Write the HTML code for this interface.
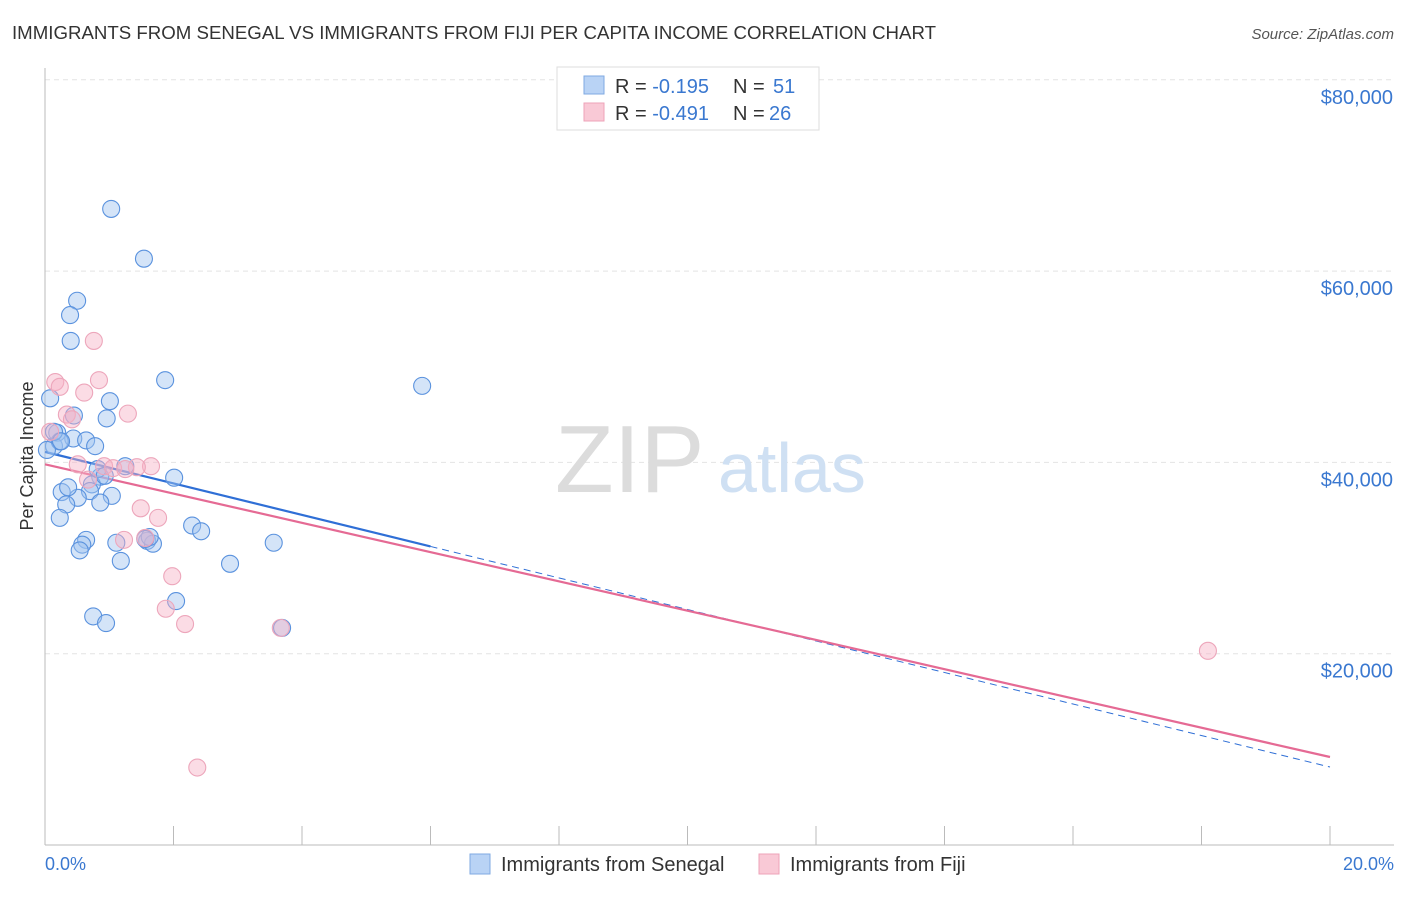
<!DOCTYPE html>
<html><head><meta charset="utf-8"><style>
body{margin:0;background:#fff;font-family:"Liberation Sans",sans-serif;}
svg text{font-family:"Liberation Sans",sans-serif;}
</style></head><body>
<svg id="chart" width="1406" height="892" viewBox="0 0 1406 892" xmlns="http://www.w3.org/2000/svg">
<text x="12" y="39" font-size="18.5" fill="#333" textLength="924" lengthAdjust="spacingAndGlyphs">IMMIGRANTS FROM SENEGAL VS IMMIGRANTS FROM FIJI PER CAPITA INCOME CORRELATION CHART</text>
<text x="1394" y="39" font-size="15" fill="#555" font-style="italic" text-anchor="end">Source: ZipAtlas.com</text>
<g id="grid"></g>
<text x="555" y="492" font-size="96" fill="#dcdcdc" font-family="Liberation Serif">ZIP</text>
<text x="718" y="492" font-size="70" fill="#cfe0f3">atlas</text>
<line x1="45" y1="68" x2="45" y2="845" stroke="#bbb"/>
<line x1="45" y1="845" x2="1394" y2="845" stroke="#bbb"/>
<text x="33" y="456" font-size="18" fill="#333" text-anchor="middle" transform="rotate(-90 33 456)">Per Capita Income</text>
<text x="45" y="870" font-size="18" fill="#3a78d0">0.0%</text>
<text x="1394" y="870" font-size="18" fill="#3a78d0" text-anchor="end">20.0%</text>
<g id="lines"></g>
<g id="points"></g>
<g>
<rect x="557" y="67" width="262" height="63" fill="#fff" stroke="#ddd"/>
<rect x="584" y="76" width="20" height="18" fill="#b9d3f5" stroke="#7fa9e2"/>
<rect x="584" y="103" width="20" height="18" fill="#f9c9d6" stroke="#eea3b8"/>
<text x="615" y="93" font-size="20" fill="#333">R = <tspan fill="#3a78d0">-0.195</tspan><tspan x="733">N = </tspan><tspan fill="#3a78d0" x="773">51</tspan></text>
<text x="615" y="120" font-size="20" fill="#333">R = <tspan fill="#3a78d0">-0.491</tspan><tspan x="733">N = </tspan><tspan fill="#3a78d0" x="769">26</tspan></text>
</g>
<g>
<rect x="470" y="854" width="20" height="20" fill="#b9d3f5" stroke="#7fa9e2"/>
<text x="501" y="871" font-size="20" fill="#333">Immigrants from Senegal</text></g>
<g>
<rect x="759" y="854" width="20" height="20" fill="#f9c9d6" stroke="#eea3b8"/>
<text x="790" y="871" font-size="20" fill="#333">Immigrants from Fiji</text></g>
</svg>
<script>
const yTicks=[20000,40000,60000,80000];
const yTickLabels=["$20,000","$40,000","$60,000","$80,000"];
const xTicks=[0,2,4,6,8,10,12,14,16,18,20];
const senegalX=[1.03,1.54,0.50,0.39,0.40,1.87,5.87,0.08,1.01,0.96,0.45,0.19,0.14,0.44,0.64,0.78,0.23,1.25,2.01,0.86,0.73,0.70,1.04,0.26,0.51,0.33,0.86,0.23,0.64,0.58,1.11,1.59,1.68,2.29,2.43,3.56,2.88,1.18,2.04,0.75,0.95,3.69,0.14,0.03,1.63,1.56,0.36,0.82,0.25,0.93,0.54];
const senegalY=[66500,61300,56900,55400,52700,48600,48000,46700,46400,44600,44900,43100,41700,42500,42300,41700,42200,39600,38400,38500,37700,37000,36500,36900,36300,35600,35800,34200,31900,31400,31600,31800,31500,33400,32800,31600,29400,29700,25500,23900,23200,22700,43200,41300,32200,32000,37400,39300,42200,38600,30800];
const fijiX=[0.76,0.16,0.23,0.84,0.61,1.29,0.34,0.42,0.51,0.92,1.06,1.65,1.43,1.25,0.67,1.49,1.76,1.23,1.56,1.98,1.88,2.18,3.67,2.37,18.10,0.08];
const fijiY=[52700,48400,47900,48600,47300,45100,45000,44500,39800,39600,39400,39600,39500,39300,38200,35200,34200,31900,32100,28100,24700,23100,22700,8100,20300,43200];
const senegalTrend=[41100,8150];
const fijiTrend=[39800,9200];
const NS="http://www.w3.org/2000/svg";
const X=v=>45+v/20*1285;
const Y=v=>845-v/20000*191.3;
function mk(t,a,p){const e=document.createElementNS(NS,t);for(const k in a)e.setAttribute(k,a[k]);p.appendChild(e);return e;}
const grid=document.getElementById('grid');
yTicks.forEach((t,i)=>{
 const l=mk('line',{x1:45,x2:1394,y1:Y(t),y2:Y(t),stroke:'#e4e4e4','stroke-dasharray':'5,4'},grid);
 
 
 const tx=mk('text',{x:1393,y:Y(t)+24,'font-size':20,fill:'#3a78d0','text-anchor':'end'},grid);
 tx.textContent=yTickLabels[i];
 
 
});
xTicks.forEach(t=>{
 const l=mk('line',{x1:X(t),x2:X(t),y1:826,y2:845,stroke:'#bbb'},grid);
 
 
});
const lines=document.getElementById('lines');
function trend(tr,col,solidEnd,dashed){
 const a=mk('line',{x1:X(0),y1:Y(tr[0]),x2:X(solidEnd),y2:Y(tr[0]+(tr[1]-tr[0])*solidEnd/20),stroke:col,'stroke-width':2.2},lines);
 
 
 if(dashed){const b=mk('line',{x1:X(solidEnd),y1:Y(tr[0]+(tr[1]-tr[0])*solidEnd/20),x2:X(20),y2:Y(tr[1]),stroke:col,'stroke-width':1,'stroke-dasharray':'7,5'},lines);
 
 }
}
trend(senegalTrend,'#2f6fd6',6,true);
trend(fijiTrend,'#e56a94',20,false);
const pts=document.getElementById('points');
senegalX.forEach((x,i)=>{
 const c=mk('circle',{cx:X(x),cy:Y(senegalY[i]),r:8.5,fill:'rgba(160,196,240,0.45)',stroke:'#5a92de','stroke-width':1.1},pts);
 
 
});
fijiX.forEach((x,i)=>{
 const c=mk('circle',{cx:X(x),cy:Y(fijiY[i]),r:8.5,fill:'rgba(246,178,198,0.45)',stroke:'#eda6bb','stroke-width':1.1},pts);
 
 
});
</script>
</body></html>
